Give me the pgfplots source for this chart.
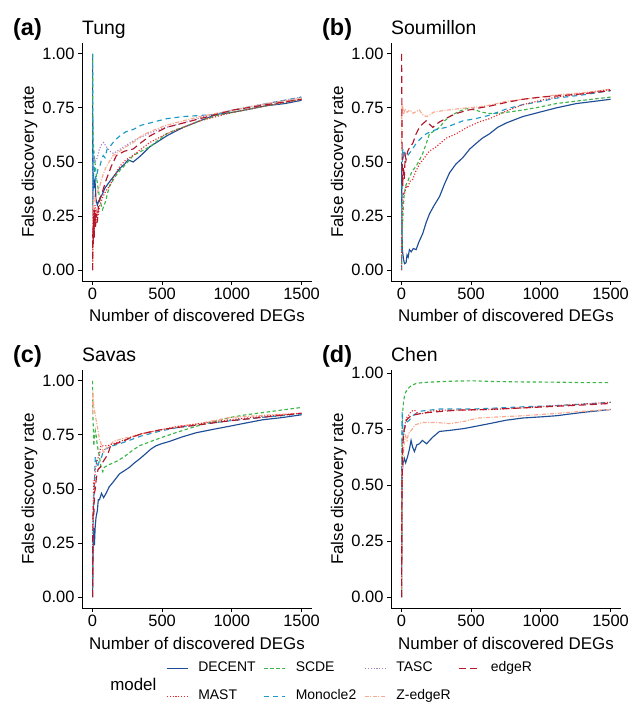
\documentclass[border=0pt]{standalone}
\usepackage{fontspec}
\setmainfont{Liberation Sans}
\usepackage{pgfplots}
\pgfplotsset{compat=1.18}

\definecolor{cDecent}{HTML}{1F4E96}
\definecolor{cMast}{HTML}{E8252B}
\definecolor{cScde}{HTML}{3DB54A}
\definecolor{cMono}{HTML}{1E9AC7}
\definecolor{cTasc}{HTML}{A283C4}
\definecolor{cZedge}{HTML}{F9A98E}
\definecolor{cEdge}{HTML}{B3172C}

\tikzset{
  tag/.style={anchor=base west, inner sep=0pt, xshift=-69bp, yshift=7bp, font=\bfseries\fontsize{23.5}{26}\selectfont},
}
\pgfplotsset{
  decent/.style={draw=cDecent, line width=1.15bp, solid},
  mast/.style={draw=cMast, line width=1.15bp, dash pattern=on 1.1bp off 1.8bp},
  scde/.style={draw=cScde, line width=1.15bp, dash pattern=on 3.5bp off 2.5bp},
  mono/.style={draw=cMono, line width=1.15bp, dash pattern=on 5bp off 4bp},
  tasc/.style={draw=cTasc, line width=1.15bp, dash pattern=on 1.1bp off 1.8bp},
  zedge/.style={draw=cZedge, line width=1.15bp, dash pattern=on 4bp off 1.5bp on 1bp off 1.5bp},
  edge/.style={draw=cEdge, line width=1.15bp, dash pattern=on 7bp off 4bp},
  fdrpanel/.style={
    scale only axis, width=230bp, height=238bp,
    xmin=-75, xmax=1575, ymin=-0.05, ymax=1.05,
    axis lines*=left, clip mode=individual,
    axis line style={line width=0.9bp, black},
    tick align=outside, major tick length=4bp,
    tick style={line width=0.9bp, black},
    xtick={0,500,1000,1500}, ytick={0,0.25,0.5,0.75,1},
    tick label style={font=\fontsize{16.5}{18}\selectfont, black},
    /pgf/number format/1000 sep={},
    /pgf/number format/assume math mode=true,
    yticklabel style={/pgf/number format/fixed, /pgf/number format/fixed zerofill, /pgf/number format/precision=2},
    xlabel={Number of discovered DEGs}, ylabel={False discovery rate},
    label style={font=\fontsize{17}{19}\selectfont},
    xlabel style={at={(axis description cs:0.5,0)}, anchor=base, yshift=-41bp},
    ylabel style={at={(axis description cs:-0.2087,0.5)}, anchor=base},
    title style={at={(axis description cs:0,1)}, anchor=base west, inner sep=0pt, yshift=3bp, font=\fontsize{19.5}{22}\selectfont},
  },
}

\begin{document}
\begin{tikzpicture}
\useasboundingbox (0,0) rectangle (631bp,707bp);

% (a) Tung
\begin{axis}[fdrpanel, at={(82bp,426bp)}, anchor=south west, title={Tung}]
\node[tag] at (axis description cs:0,1) {(a)};
\addplot[decent] coordinates {(1,1.00) (2,0.50) (4,0.33) (7,0.45) (12,0.38) (18,0.42) (25,0.33) (35,0.30) (45,0.32) (55,0.33) (70,0.35) (90,0.38) (124,0.41) (160,0.44) (196,0.47) (230,0.49) (256,0.51) (292,0.50) (330,0.52) (364,0.54) (410,0.57) (459,0.59) (531,0.62) (590,0.64) (651,0.66) (770,0.69) (890,0.72) (1010,0.73) (1130,0.745) (1249,0.76) (1380,0.77) (1500,0.785)};
\addplot[scde] coordinates {(1,1.00) (3,0.70) (5,0.60) (10,0.55) (18,0.50) (29,0.43) (40,0.38) (55,0.32) (72,0.28) (90,0.31) (110,0.36) (124,0.39) (160,0.43) (196,0.46) (240,0.49) (292,0.53) (350,0.55) (411,0.57) (470,0.60) (531,0.63) (600,0.65) (651,0.66) (770,0.69) (890,0.715) (1010,0.73) (1250,0.76) (1500,0.79)};
\addplot[mono] coordinates {(1,1.00) (2,0.25) (4,0.45) (8,0.55) (12,0.48) (18,0.45) (24,0.42) (29,0.43) (40,0.47) (53,0.48) (65,0.51) (77,0.53) (90,0.52) (105,0.56) (124,0.57) (160,0.60) (196,0.62) (240,0.64) (292,0.65) (350,0.67) (411,0.68) (470,0.69) (531,0.70) (651,0.71) (770,0.715) (890,0.72) (1010,0.74) (1250,0.77) (1500,0.80)};
\addplot[tasc] coordinates {(1,0.00) (2,0.45) (5,0.50) (10,0.53) (20,0.50) (35,0.52) (50,0.56) (65,0.58) (80,0.59) (100,0.57) (125,0.55) (150,0.54) (200,0.56) (250,0.58) (300,0.60) (400,0.63) (500,0.655) (650,0.68) (800,0.71) (1000,0.74) (1250,0.77) (1500,0.80)};
\addplot[zedge] coordinates {(1,0.00) (3,0.30) (6,0.25) (10,0.35) (20,0.32) (35,0.36) (53,0.39) (75,0.44) (100,0.48) (148,0.53) (196,0.55) (240,0.57) (292,0.59) (350,0.62) (411,0.64) (470,0.655) (531,0.67) (650,0.69) (770,0.71) (890,0.725) (1010,0.74) (1250,0.77) (1500,0.795)};
\addplot[mast] coordinates {(1,0.00) (4,0.15) (8,0.28) (12,0.18) (18,0.30) (25,0.22) (32,0.27) (40,0.25) (53,0.30) (75,0.34) (100,0.37) (124,0.39) (160,0.44) (196,0.48) (240,0.51) (292,0.53) (350,0.56) (411,0.59) (470,0.61) (531,0.63) (650,0.66) (770,0.69) (890,0.71) (1010,0.73) (1250,0.76) (1500,0.79)};
\addplot[edge] coordinates {(1,0.00) (3,0.20) (6,0.12) (9,0.25) (13,0.15) (17,0.28) (22,0.20) (28,0.26) (35,0.22) (42,0.29) (53,0.33) (75,0.37) (100,0.42) (135,0.48) (172,0.53) (230,0.55) (292,0.56) (350,0.59) (411,0.62) (470,0.64) (531,0.66) (650,0.68) (770,0.70) (890,0.72) (1010,0.74) (1250,0.765) (1500,0.79)};
\end{axis}

% (b) Soumillon
\begin{axis}[fdrpanel, at={(391bp,426bp)}, anchor=south west, title={Soumillon}]
\node[tag] at (axis description cs:0,1) {(b)};
\addplot[decent] coordinates {(1,0.50) (3,0.25) (6,0.10) (9,0.08) (15,0.05) (22,0.03) (33,0.034) (40,0.07) (48,0.06) (57,0.095) (70,0.085) (85,0.10) (105,0.095) (125,0.13) (153,0.17) (177,0.22) (201,0.26) (235,0.30) (273,0.34) (310,0.40) (345,0.45) (390,0.49) (440,0.52) (490,0.56) (536,0.586) (580,0.61) (631,0.63) (690,0.66) (751,0.68) (810,0.695) (871,0.71) (990,0.73) (1110,0.75) (1254,0.77) (1380,0.78) (1500,0.79)};
\addplot[scde] coordinates {(1,0.00) (3,0.10) (6,0.18) (9,0.23) (14,0.30) (20,0.35) (30,0.39) (45,0.41) (57,0.43) (80,0.46) (105,0.48) (130,0.51) (153,0.54) (175,0.58) (201,0.63) (240,0.645) (273,0.66) (310,0.69) (345,0.71) (400,0.73) (464,0.747) (530,0.74) (580,0.73) (631,0.724) (700,0.725) (871,0.74) (1000,0.755) (1110,0.77) (1300,0.785) (1500,0.80)};
\addplot[mono] coordinates {(1,0.00) (3,0.30) (6,0.50) (10,0.56) (15,0.53) (21,0.555) (30,0.52) (45,0.53) (57,0.54) (80,0.56) (105,0.586) (140,0.61) (177,0.63) (210,0.64) (249,0.65) (320,0.66) (380,0.675) (440,0.69) (530,0.70) (631,0.716) (753,0.745) (871,0.765) (1000,0.78) (1110,0.795) (1300,0.81) (1500,0.83)};
\addplot[zedge] coordinates {(1,0.55) (3,0.77) (6,0.73) (9,0.76) (15,0.72) (25,0.745) (40,0.73) (60,0.74) (85,0.725) (110,0.735) (129,0.74) (150,0.72) (177,0.71) (200,0.715) (230,0.73) (273,0.735) (330,0.74) (392,0.745) (470,0.75) (560,0.755) (650,0.765) (750,0.78) (871,0.79) (1000,0.80) (1110,0.81) (1300,0.82) (1500,0.837)};
\addplot[mast] coordinates {(1,0.00) (3,0.20) (6,0.28) (9,0.31) (15,0.36) (22,0.35) (33,0.39) (45,0.38) (60,0.41) (81,0.42) (105,0.46) (129,0.49) (153,0.51) (200,0.55) (249,0.57) (320,0.61) (392,0.63) (470,0.66) (560,0.686) (631,0.70) (750,0.735) (871,0.765) (1000,0.785) (1110,0.80) (1300,0.815) (1500,0.835)};
\addplot[edge] coordinates {(1,1.00) (2,0.88) (4,0.62) (6,0.45) (9,0.39) (14,0.48) (20,0.42) (27,0.53) (33,0.51) (45,0.55) (60,0.57) (81,0.586) (105,0.63) (129,0.66) (150,0.675) (177,0.69) (200,0.675) (225,0.66) (250,0.675) (273,0.685) (330,0.705) (392,0.724) (480,0.74) (560,0.75) (631,0.758) (750,0.775) (871,0.79) (1000,0.80) (1110,0.805) (1300,0.815) (1500,0.83)};
\end{axis}

% (c) Savas
\begin{axis}[fdrpanel, at={(82bp,99bp)}, anchor=south west, title={Savas},
  legend columns=4, legend cell align=left,
  legend image code/.code={\draw[#1] (0bp,0bp) -- (21bp,0bp);},
  legend style={at={(axis description cs:0.365,-0.224)}, anchor=north west,
    draw=none, fill=none, inner sep=0pt, font=\fontsize{14}{16}\selectfont,
    nodes={inner sep=0pt, text depth=4.5bp}, row sep=13bp,
    /tikz/every odd column/.append style={column sep=10bp},
    /tikz/every even column/.append style={column sep=8bp}}]
\node[tag] at (axis description cs:0,1) {(c)};
\node[anchor=base west, inner sep=0pt, font=\fontsize{17}{19}\selectfont] at (axis description cs:0.122,0) [yshift=-82bp] {model};
\addlegendimage{decent}\addlegendentry{DECENT}
\addlegendimage{scde}\addlegendentry{SCDE}
\addlegendimage{tasc}\addlegendentry{TASC}
\addlegendimage{edge}\addlegendentry{edgeR}
\addlegendimage{mast}\addlegendentry{MAST}
\addlegendimage{mono}\addlegendentry{Monocle2}
\addlegendimage{zedge}\addlegendentry{Z-edgeR}
\addplot[decent, forget plot] coordinates {(1,0.00) (3,0.15) (6,0.28) (10,0.32) (14,0.24) (20,0.33) (26,0.37) (35,0.40) (42,0.45) (50,0.45) (65,0.48) (80,0.46) (98,0.48) (120,0.51) (146,0.53) (170,0.55) (194,0.57) (230,0.585) (265,0.60) (300,0.62) (340,0.64) (385,0.665) (420,0.685) (457,0.70) (500,0.71) (553,0.72) (640,0.74) (744,0.76) (860,0.775) (983,0.79) (1100,0.805) (1222,0.82) (1360,0.83) (1500,0.843)};
\addplot[scde, forget plot] coordinates {(1,1.00) (3,0.85) (6,0.78) (10,0.70) (14,0.74) (20,0.77) (26,0.75) (35,0.70) (50,0.65) (62,0.60) (74,0.58) (85,0.60) (110,0.61) (146,0.62) (180,0.63) (230,0.65) (280,0.675) (337,0.70) (420,0.72) (505,0.74) (620,0.765) (744,0.79) (860,0.81) (983,0.83) (1100,0.843) (1222,0.853) (1360,0.865) (1500,0.877)};
\addplot[mono, forget plot] coordinates {(1,0.00) (3,0.20) (6,0.40) (10,0.46) (15,0.55) (20,0.65) (28,0.63) (35,0.60) (50,0.63) (62,0.64) (80,0.68) (110,0.69) (146,0.70) (200,0.71) (265,0.725) (350,0.745) (500,0.77) (620,0.785) (744,0.795) (860,0.805) (983,0.815) (1200,0.83) (1500,0.847)};
\addplot[zedge, forget plot] coordinates {(1,0.85) (2,0.95) (5,0.92) (10,0.88) (18,0.85) (26,0.82) (40,0.77) (50,0.73) (62,0.71) (80,0.665) (100,0.69) (125,0.70) (150,0.72) (200,0.73) (265,0.74) (350,0.755) (500,0.775) (620,0.79) (744,0.80) (860,0.815) (983,0.83) (1200,0.84) (1500,0.85)};
\addplot[mast, forget plot] coordinates {(1,0.00) (3,0.30) (6,0.45) (10,0.54) (15,0.50) (20,0.58) (28,0.62) (38,0.64) (50,0.66) (60,0.70) (80,0.70) (110,0.70) (150,0.71) (200,0.72) (265,0.735) (350,0.755) (500,0.775) (620,0.79) (744,0.80) (860,0.81) (983,0.82) (1200,0.835) (1500,0.85)};
\addplot[edge, forget plot] coordinates {(1,0.00) (3,0.35) (6,0.42) (10,0.38) (14,0.48) (20,0.50) (28,0.55) (40,0.59) (55,0.60) (70,0.62) (90,0.64) (110,0.66) (130,0.70) (170,0.71) (220,0.72) (265,0.735) (350,0.755) (500,0.775) (620,0.785) (744,0.795) (860,0.805) (983,0.815) (1200,0.83) (1500,0.85)};
\end{axis}

% (d) Chen
\begin{axis}[fdrpanel, at={(391bp,99bp)}, anchor=south west, title={Chen}, ymin=-0.0483, ymax=1.0143]
\node[tag] at (axis description cs:0,1) {(d)};
\addplot[decent] coordinates {(1,0.00) (2,0.30) (4,0.50) (7,0.57) (12,0.60) (20,0.62) (30,0.60) (45,0.63) (57,0.66) (69,0.70) (80,0.67) (93,0.65) (110,0.68) (129,0.685) (150,0.70) (180,0.685) (225,0.715) (273,0.74) (350,0.745) (450,0.753) (550,0.765) (632,0.775) (750,0.79) (871,0.80) (1000,0.805) (1110,0.81) (1300,0.825) (1500,0.838)};
\addplot[scde] coordinates {(1,0.00) (2,0.45) (4,0.70) (7,0.80) (10,0.835) (15,0.87) (22,0.90) (30,0.915) (45,0.93) (70,0.945) (105,0.954) (150,0.958) (201,0.96) (300,0.963) (400,0.965) (512,0.966) (650,0.963) (871,0.961) (1100,0.96) (1300,0.958) (1500,0.958)};
\addplot[mono] coordinates {(1,0.00) (2,0.40) (3,0.70) (5,0.83) (8,0.78) (12,0.72) (18,0.74) (25,0.76) (35,0.78) (57,0.79) (80,0.81) (129,0.83) (200,0.835) (273,0.84) (400,0.84) (512,0.84) (700,0.845) (871,0.85) (1100,0.855) (1300,0.862) (1500,0.87)};
\addplot[zedge] coordinates {(1,0.00) (2,0.35) (4,0.50) (7,0.57) (12,0.62) (20,0.69) (30,0.72) (40,0.70) (50,0.73) (70,0.745) (100,0.77) (153,0.78) (250,0.78) (350,0.775) (450,0.785) (550,0.80) (700,0.805) (871,0.81) (1100,0.82) (1300,0.83) (1500,0.838)};
\addplot[mast] coordinates {(1,0.00) (2,0.30) (4,0.55) (7,0.68) (12,0.70) (18,0.73) (25,0.77) (35,0.80) (50,0.81) (70,0.83) (93,0.835) (120,0.82) (153,0.82) (200,0.83) (300,0.835) (450,0.835) (650,0.838) (871,0.845) (1100,0.855) (1300,0.862) (1500,0.87)};
\addplot[edge] coordinates {(1,0.00) (2,0.25) (4,0.50) (7,0.62) (12,0.70) (18,0.745) (25,0.76) (35,0.79) (50,0.80) (70,0.81) (100,0.815) (140,0.82) (200,0.825) (300,0.83) (400,0.835) (600,0.838) (871,0.845) (1100,0.852) (1300,0.858) (1500,0.865)};
\end{axis}
\end{tikzpicture}
\end{document}
